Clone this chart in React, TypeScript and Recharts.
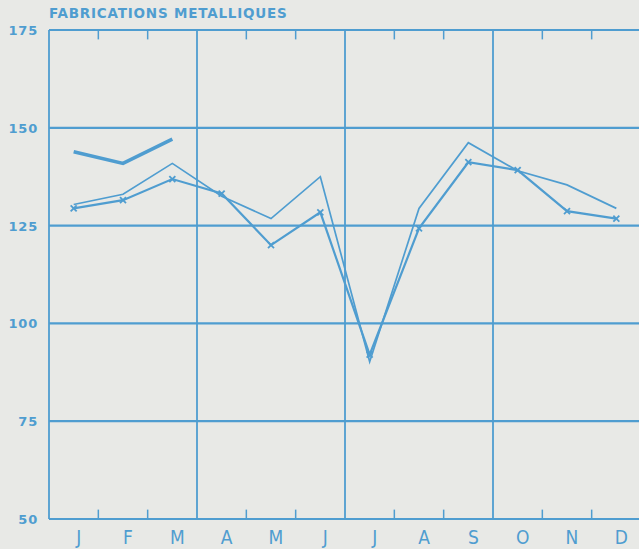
import React from 'react';
import { LineChart, Line, XAxis, YAxis, ReferenceLine } from 'recharts';

const months = ['J', 'F', 'M', 'A', 'M', 'J', 'J', 'A', 'S', 'O', 'N', 'D'];
const seriesThick = [143.9, 140.9, 147.1];
const seriesThin = [130.4, 133.0, 140.9, 132.5, 126.8, 137.5, 90.2, 129.4, 146.2, 139.0, 135.4, 129.4];
const seriesMarked = [129.4, 131.5, 136.9, 133.2, 120.0, 128.4, 92.0, 124.3, 141.2, 139.2, 128.7, 126.8];
const yTicks = [50, 75, 100, 125, 150, 175];
const quarterLines = [0, 3, 6, 9, 12];
const monthTicks = [1, 2, 4, 5, 7, 8, 10, 11];

const data = months.map((m, i) => ({
  x: i + 0.5,
  label: m,
  thick: i < seriesThick.length ? seriesThick[i] : null,
  thin: seriesThin[i],
  marked: seriesMarked[i],
}));

const BLUE = '#4f9dd0';
const BG = '#e8e9e6';

const XMarker = (props: any) => {
  const { cx, cy } = props;
  if (cx == null || cy == null) return null;
  const s = 3;
  return (
    <g>
      <line x1={cx - s} y1={cy - s} x2={cx + s} y2={cy + s} stroke={BLUE} strokeWidth={1.8} />
      <line x1={cx - s} y1={cy + s} x2={cx + s} y2={cy - s} stroke={BLUE} strokeWidth={1.8} />
    </g>
  );
};

const MonthTick = (props: any) => {
  const { x, y, payload } = props;
  const idx = Math.round(payload.value - 0.5);
  return (
    <text x={x + 5} y={y + 17} textAnchor="middle" fill={BLUE} fontSize={19}
      fontFamily="'DejaVu Sans Condensed', 'DejaVu Sans', sans-serif">
      {months[idx]}
    </text>
  );
};

const YTick = (props: any) => {
  const { y, payload } = props;
  return (
    <text x={38} y={y + 5} textAnchor="end" fill={BLUE} fontSize={13} fontWeight="bold"
      letterSpacing={0.8} fontFamily="'DejaVu Sans', sans-serif">
      {payload.value}
    </text>
  );
};

export default function App() {
  return (
    <div style={{ position: 'fixed', left: 0, top: 0, width: 639, height: 549, background: BG, overflow: 'hidden' }}>
      <div style={{ position: 'absolute', left: 49, top: 5, color: BLUE, fontFamily: "'DejaVu Sans', sans-serif",
        fontWeight: 'bold', fontSize: 13.5, letterSpacing: 0.8, whiteSpace: 'nowrap', lineHeight: '16px' }}>
        FABRICATIONS METALLIQUES
      </div>
      <LineChart width={661} height={549} data={data} margin={{ top: 30, right: 20, bottom: 0, left: 0 }}>
        <XAxis dataKey="x" type="number" domain={[0, 12]} ticks={data.map(d => d.x)} tick={<MonthTick />}
          axisLine={false} tickLine={false} height={30} interval={0} />
        <YAxis type="number" domain={[50, 175]} ticks={yTicks} tick={<YTick />} axisLine={false}
          tickLine={false} width={49} interval={0} />
        {yTicks.map(v => (
          <ReferenceLine key={'h' + v} y={v} stroke={BLUE} strokeWidth={2.2} ifOverflow="visible" />
        ))}
        {quarterLines.map(v => (
          <ReferenceLine key={'v' + v} x={v} stroke={BLUE} strokeWidth={1.8} ifOverflow="visible" />
        ))}
        {monthTicks.map(v => (
          <ReferenceLine key={'tb' + v} segment={[{ x: v, y: 50 }, { x: v, y: 52.4 }]} stroke={BLUE}
            strokeWidth={1.5} ifOverflow="visible" />
        ))}
        {monthTicks.map(v => (
          <ReferenceLine key={'tt' + v} segment={[{ x: v, y: 175 }, { x: v, y: 172.6 }]} stroke={BLUE}
            strokeWidth={1.5} ifOverflow="visible" />
        ))}
        <Line dataKey="thin" stroke={BLUE} strokeWidth={1.7} dot={false} isAnimationActive={false} />
        <Line dataKey="marked" stroke={BLUE} strokeWidth={2.2} dot={<XMarker />} isAnimationActive={false} />
        <Line dataKey="thick" stroke={BLUE} strokeWidth={3.6} dot={false} isAnimationActive={false}
          connectNulls={false} />
      </LineChart>
    </div>
  );
}
